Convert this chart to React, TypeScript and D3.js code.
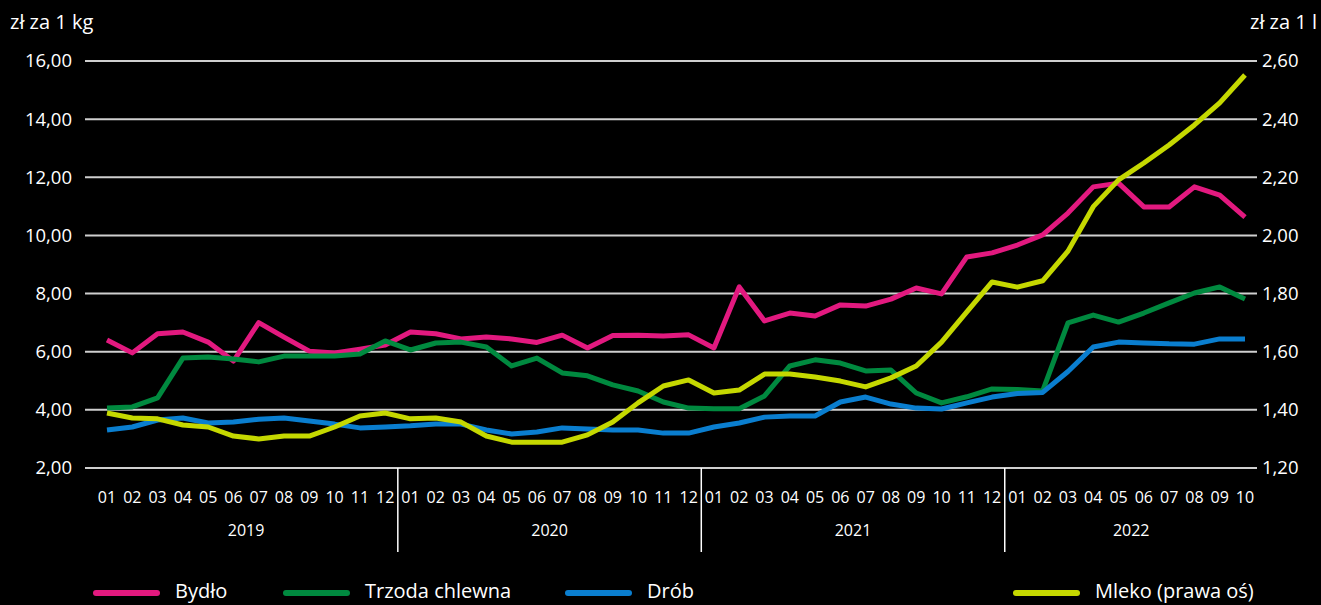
import React from "react";
import * as d3 from "d3";

const years = ["2019", "2020", "2021", "2022"];
const monthsPerYear = [12, 12, 12, 10];
const monthLabels = ["01", "02", "03", "04", "05", "06", "07", "08", "09", "10", "11", "12"];

const leftTicks = [2, 4, 6, 8, 10, 12, 14, 16];
const rightTicks = [1.2, 1.4, 1.6, 1.8, 2.0, 2.2, 2.4, 2.6];

const bydlo = [
  6.40, 5.96, 6.62, 6.68, 6.33, 5.68, 7.0, 6.5, 6.02, 5.96, 6.09, 6.23,
  6.68, 6.62, 6.44, 6.51, 6.44, 6.32, 6.57, 6.13, 6.56, 6.57, 6.54, 6.58,
  6.13, 8.23, 7.06, 7.33, 7.23, 7.61, 7.57, 7.81, 8.19, 7.99, 9.26, 9.40,
  9.67, 10.02, 10.77, 11.67, 11.80, 10.98, 10.98, 11.67, 11.39, 10.63,
];
const trzoda = [
  4.06, 4.10, 4.41, 5.78, 5.82, 5.75, 5.65, 5.85, 5.85, 5.85, 5.92, 6.37,
  6.06, 6.30, 6.33, 6.16, 5.51, 5.78, 5.27, 5.17, 4.86, 4.65, 4.27, 4.06,
  4.04, 4.04, 4.48, 5.51, 5.72, 5.61, 5.34, 5.37, 4.58, 4.24, 4.45, 4.72,
  4.70, 4.65, 6.99, 7.26, 7.02, 7.33, 7.68, 8.02, 8.23, 7.81,
];
const drob = [
  3.31, 3.41, 3.65, 3.72, 3.55, 3.58, 3.68, 3.72, 3.62, 3.51, 3.38, 3.41,
  3.45, 3.51, 3.51, 3.31, 3.17, 3.24, 3.38, 3.34, 3.31, 3.31, 3.20, 3.20,
  3.41, 3.55, 3.75, 3.79, 3.79, 4.27, 4.44, 4.20, 4.06, 4.03, 4.24, 4.44,
  4.56, 4.60, 5.32, 6.16, 6.33, 6.30, 6.27, 6.26, 6.44, 6.44,
];
const mleko = [
  1.389, 1.372, 1.369, 1.348, 1.341, 1.310, 1.300, 1.310, 1.310, 1.341, 1.379, 1.389,
  1.369, 1.372, 1.358, 1.310, 1.289, 1.289, 1.289, 1.314, 1.358, 1.424, 1.482, 1.503,
  1.458, 1.468, 1.523, 1.523, 1.513, 1.499, 1.479, 1.510, 1.551, 1.633, 1.737, 1.840,
  1.822, 1.844, 1.946, 2.099, 2.191, 2.249, 2.311, 2.380, 2.456, 2.552,
];

const seriesNames = ["Bydło", "Trzoda chlewna", "Drób", "Mleko (prawa oś)"];
const seriesColors = ["#e2197f", "#00893f", "#0a7ecf", "#c5d800"];

const W = 1321;
const H = 605;
const FONT = "'Open Sans', 'Noto Sans', sans-serif";
const fmt = (v: number) => d3.format(".2f")(v).replace(".", ",");

export default function App() {
  React.useEffect(() => {
    document.body.style.margin = "0";
    document.body.style.background = "#000";
  }, []);

  const labels: { m: string; y: string }[] = [];
  years.forEach((y, yi) => {
    for (let m = 0; m < monthsPerYear[yi]; m++) labels.push({ m: monthLabels[m], y });
  });
  const idx = labels.map((_, i) => i);

  const x = d3.scalePoint<number>().domain(idx).range([107, 1245]);
  const step = x.step();
  const yL = d3.scaleLinear().domain([2, 16]).range([468, 61]);
  const yR = d3.scaleLinear().domain([1.2, 2.6]).range([468, 61]);

  const lineL = d3.line<number>().x((_, i) => x(i)!).y((d) => yL(d));
  const lineR = d3.line<number>().x((_, i) => x(i)!).y((d) => yR(d));

  const gridX0 = 85;
  const gridX1 = 1257;

  const yearStarts: number[] = [];
  let acc = 0;
  monthsPerYear.forEach((n) => {
    yearStarts.push(acc);
    acc += n;
  });

  const legendX = [93, 283, 565, 1013];
  const legendY = 591;

  return (
    <div style={{ position: "absolute", left: 0, top: 0, width: W, height: H, background: "#000" }}>
      <svg width={W} height={H} style={{ display: "block", fontFamily: FONT }}>
        <rect width={W} height={H} fill="#000" />
        {leftTicks.map((t) => (
          <line key={t} x1={gridX0} x2={gridX1} y1={yL(t)} y2={yL(t)} stroke="#cfcfcf" strokeWidth={2} />
        ))}
        {leftTicks.map((t) => (
          <text key={"l" + t} x={72} y={yL(t)} dy="0.35em" textAnchor="end" fill="#fff" fontSize={18.5}>
            {fmt(t)}
          </text>
        ))}
        {rightTicks.map((t) => (
          <text key={"r" + t} x={1262} y={yR(t)} dy="0.35em" textAnchor="start" fill="#fff" fontSize={18.5}>
            {fmt(t)}
          </text>
        ))}
        <text x={10} y={22} dy="0.35em" fill="#fff" fontSize={20}>zł za 1 kg</text>
        <text x={1250} y={22} dy="0.35em" fill="#fff" fontSize={20}>zł za 1 l</text>

        {labels.map((l, i) => (
          <text key={"m" + i} x={x(i)!} y={497} dy="0.35em" textAnchor="middle" fill="#fff" fontSize={16}>
            {l.m}
          </text>
        ))}
        {yearStarts.map((s, yi) => {
          const startX = x(s)! - step / 2;
          const endX = x(s + monthsPerYear[yi] - 1)! + step / 2;
          return (
            <g key={years[yi]}>
              {yi > 0 && <line x1={startX} x2={startX} y1={468} y2={552} stroke="#fff" strokeWidth={1.5} />}
              <text x={(startX + endX) / 2} y={530} dy="0.35em" textAnchor="middle" fill="#fff" fontSize={16}>
                {years[yi]}
              </text>
            </g>
          );
        })}

        <path d={lineL(bydlo)!} fill="none" stroke={seriesColors[0]} strokeWidth={5} strokeLinejoin="round" />
        <path d={lineL(trzoda)!} fill="none" stroke={seriesColors[1]} strokeWidth={5} strokeLinejoin="round" />
        <path d={lineL(drob)!} fill="none" stroke={seriesColors[2]} strokeWidth={5} strokeLinejoin="round" />
        <path d={lineR(mleko)!} fill="none" stroke={seriesColors[3]} strokeWidth={5} strokeLinejoin="round" />

        {seriesNames.map((n, i) => (
          <g key={n}>
            <line x1={legendX[i] + 3} x2={legendX[i] + 64} y1={legendY + 2} y2={legendY + 2} stroke={seriesColors[i]} strokeWidth={6} strokeLinecap="round" />
            <text x={legendX[i] + 82} y={legendY} dy="0.35em" fill="#fff" fontSize={20}>
              {n}
            </text>
          </g>
        ))}
      </svg>
    </div>
  );
}
